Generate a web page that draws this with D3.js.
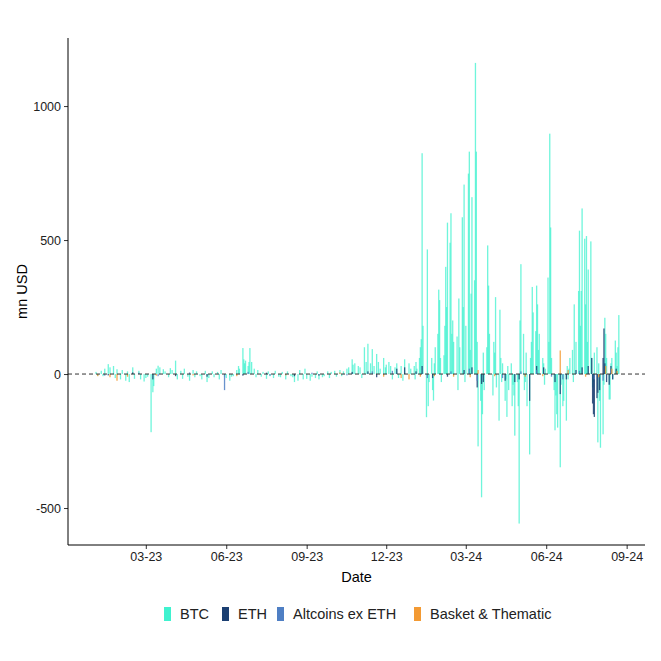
<!DOCTYPE html>
<html><head><meta charset="utf-8">
<script src="https://cdn.jsdelivr.net/npm/d3@7"></script>
<style>body{margin:0;background:#fff;font-family:"Liberation Sans",Arial,sans-serif;}</style>
</head><body><svg id="chart" width="661" height="661"></svg>
<script>
// daily net flows, mn USD
var btcFlows = [
["2023-01-03",8],["2023-01-05",-6],["2023-01-09",12],["2023-01-11",-8],["2023-01-13",20],["2023-01-17",37],["2023-01-19",25],["2023-01-23",30],["2023-01-25",-15],["2023-01-27",18],["2023-01-31",-20],
["2023-02-02",15],["2023-02-06",-25],["2023-02-08",10],["2023-02-10",-30],["2023-02-14",25],["2023-02-16",-18],["2023-02-21",12],["2023-02-23",-20],["2023-02-27",-28],
["2023-03-01",-15],["2023-03-03",-10],["2023-03-07",-217],["2023-03-09",-68],["2023-03-10",-45],["2023-03-13",20],["2023-03-15",31],["2023-03-17",25],["2023-03-21",18],["2023-03-23",10],["2023-03-27",-12],["2023-03-29",22],["2023-03-31",15],
["2023-04-04",50],["2023-04-06",-20],["2023-04-10",12],["2023-04-12",-18],["2023-04-14",20],["2023-04-18",-10],["2023-04-20",-25],["2023-04-24",15],["2023-04-26",-12],["2023-04-28",10],
["2023-05-02",-8],["2023-05-04",-20],["2023-05-08",12],["2023-05-10",-30],["2023-05-12",-15],["2023-05-16",10],["2023-05-18",-12],["2023-05-22",8],["2023-05-24",-20],["2023-05-26",15],["2023-05-30",-10],
["2023-06-01",-15],["2023-06-05",-25],["2023-06-07",-10],["2023-06-09",-8],["2023-06-13",15],["2023-06-15",30],["2023-06-16",20],["2023-06-20",97],["2023-06-21",55],["2023-06-22",40],["2023-06-23",50],["2023-06-26",30],["2023-06-27",45],["2023-06-28",97],["2023-06-30",45],
["2023-07-03",20],["2023-07-05",-12],["2023-07-07",15],["2023-07-11",-10],["2023-07-13",8],["2023-07-17",-18],["2023-07-19",10],["2023-07-21",-8],["2023-07-25",-15],["2023-07-27",12],["2023-07-31",-10],
["2023-08-02",-12],["2023-08-04",8],["2023-08-08",-20],["2023-08-10",10],["2023-08-14",-8],["2023-08-16",-12],["2023-08-18",-30],["2023-08-22",-25],["2023-08-24",15],["2023-08-28",-20],["2023-08-30",20],
["2023-09-01",-18],["2023-09-05",-25],["2023-09-07",-10],["2023-09-11",-15],["2023-09-13",10],["2023-09-15",-20],["2023-09-19",-12],["2023-09-21",-8],["2023-09-25",10],["2023-09-27",-15],["2023-09-29",8],
["2023-10-03",12],["2023-10-05",-10],["2023-10-09",15],["2023-10-11",-8],["2023-10-13",10],["2023-10-17",20],["2023-10-19",25],["2023-10-23",55],["2023-10-24",35],["2023-10-26",40],["2023-10-30",30],
["2023-11-01",25],["2023-11-03",-15],["2023-11-06",100],["2023-11-08",45],["2023-11-10",113],["2023-11-13",40],["2023-11-15",93],["2023-11-17",30],["2023-11-20",75],["2023-11-22",45],["2023-11-24",20],["2023-11-28",60],["2023-11-30",25],
["2023-12-01",35],["2023-12-04",45],["2023-12-06",30],["2023-12-08",-20],["2023-12-11",25],["2023-12-13",40],["2023-12-15",-15],["2023-12-18",30],["2023-12-20",-25],["2023-12-22",55],["2023-12-27",40],["2023-12-29",20],
["2024-01-02",30],["2024-01-03",-20],["2024-01-04",45],["2024-01-05",20],["2024-01-08",60],["2024-01-09",100],["2024-01-10",130],["2024-01-11",824],["2024-01-12",180],["2024-01-16",-161],["2024-01-17",465],["2024-01-18",-120],["2024-01-19",-30],["2024-01-22",60],["2024-01-23",-60],["2024-01-24",-99],["2024-01-25",40],["2024-01-26",100],["2024-01-29",150],["2024-01-30",315],["2024-01-31",276],
["2024-02-01",60],["2024-02-02",-30],["2024-02-05",70],["2024-02-06",180],["2024-02-07",400],["2024-02-08",250],["2024-02-09",565],["2024-02-12",490],["2024-02-13",600],["2024-02-14",150],["2024-02-15",200],["2024-02-16",120],["2024-02-20",140],["2024-02-21",-60],["2024-02-22",282],["2024-02-23",100],["2024-02-26",585],["2024-02-27",250],["2024-02-28",707],["2024-02-29",-30],
["2024-03-01",180],["2024-03-04",748],["2024-03-05",830],["2024-03-06",90],["2024-03-07",300],["2024-03-08",660],["2024-03-11",350],["2024-03-12",1161],["2024-03-13",830],["2024-03-14",120],["2024-03-15",-270],["2024-03-18",-100],["2024-03-19",-460],["2024-03-20",-150],["2024-03-21",80],["2024-03-22",-60],["2024-03-25",100],["2024-03-26",480],["2024-03-27",330],["2024-03-28",150],
["2024-04-01",-80],["2024-04-02",120],["2024-04-03",80],["2024-04-04",287],["2024-04-05",-50],["2024-04-08",-174],["2024-04-09",240],["2024-04-10",60],["2024-04-11",-30],["2024-04-12",40],["2024-04-15",-100],["2024-04-16",-20],["2024-04-17",-160],["2024-04-18",30],["2024-04-19",-60],["2024-04-22",40],["2024-04-23",-120],["2024-04-24",-40],["2024-04-25",-80],["2024-04-26",-230],["2024-04-29",-30],["2024-04-30",-120],
["2024-05-01",-558],["2024-05-02",200],["2024-05-03",410],["2024-05-06",150],["2024-05-07",-60],["2024-05-08",-30],["2024-05-09",80],["2024-05-10",-120],["2024-05-13",-300],["2024-05-14",60],["2024-05-15",120],["2024-05-16",325],["2024-05-17",230],["2024-05-20",160],["2024-05-21",330],["2024-05-22",260],["2024-05-23",90],["2024-05-24",150],["2024-05-28",60],["2024-05-29",40],["2024-05-30",-40],["2024-05-31",20],
["2024-06-03",360],["2024-06-04",120],["2024-06-05",897],["2024-06-06",547],["2024-06-07",60],["2024-06-10",-60],["2024-06-11",-210],["2024-06-12",-80],["2024-06-13",-150],["2024-06-14",-200],["2024-06-17",-348],["2024-06-18",-40],["2024-06-20",-120],["2024-06-21",-100],["2024-06-24",-174],["2024-06-25",30],["2024-06-26",-20],["2024-06-27",20],["2024-06-28",60],
["2024-07-01",90],["2024-07-02",-30],["2024-07-03",260],["2024-07-05",120],["2024-07-08",310],["2024-07-09",535],["2024-07-10",180],["2024-07-11",310],["2024-07-12",618],["2024-07-15",505],["2024-07-16",260],["2024-07-17",515],["2024-07-18",120],["2024-07-19",390],["2024-07-22",495],["2024-07-23",60],["2024-07-24",-50],["2024-07-25",-30],["2024-07-26",80],["2024-07-29",100],["2024-07-30",-255],
["2024-07-31",40],["2024-08-01",-100],["2024-08-02",-275],["2024-08-05",-225],["2024-08-06",-40],["2024-08-07",210],["2024-08-08",150],["2024-08-09",60],["2024-08-12",-95],["2024-08-13",-95],["2024-08-14",40],["2024-08-15",60],["2024-08-16",-20],["2024-08-19",125],["2024-08-20",80],["2024-08-21",30],["2024-08-22",100],["2024-08-23",220]
];
var ethFlows = [
["2023-01-17",-5],["2023-02-14",6],["2023-03-09",-20],["2023-04-04",-8],["2023-05-10",-10],["2023-06-20",-6],["2023-07-17",5],["2023-08-18",-8],["2023-09-15",-6],["2023-10-23",8],["2023-11-10",10],["2023-11-20",-12],["2023-12-13",20],["2023-12-22",25],
["2024-01-04",10],["2024-01-11",30],["2024-01-23",-15],["2024-02-09",-10],["2024-02-28",15],["2024-03-08",25],["2024-03-14",-50],["2024-03-19",-37],["2024-03-21",-30],["2024-04-15",-25],["2024-04-26",-30],["2024-05-01",-20],["2024-05-13",-100],["2024-05-21",30],["2024-05-29",25],["2024-06-11",-30],["2024-06-17",-75],["2024-06-24",-20],["2024-07-05",15],["2024-07-12",25],["2024-07-19",30],
["2024-07-23",60],["2024-07-24",-110],["2024-07-25",-150],["2024-07-26",-160],["2024-07-29",-90],["2024-07-30",-70],["2024-08-01",-60],["2024-08-05",60],["2024-08-06",170],["2024-08-07",40],["2024-08-09",-30],["2024-08-12",-40],["2024-08-14",30],["2024-08-16",-20],["2024-08-20",20]
];
var altFlows = [
["2023-01-13",-6],["2023-02-21",5],["2023-03-15",-8],["2023-04-20",6],["2023-05-30",-60],["2023-06-26",8],["2023-07-21",-6],["2023-09-07",5],["2023-10-17",-5],["2023-11-15",10],["2023-12-08",12],
["2024-01-17",-15],["2024-02-13",10],["2024-03-05",20],["2024-03-14",-25],["2024-04-12",-15],["2024-05-03",10],["2024-05-21",15],["2024-06-07",-10],["2024-06-20",-20],["2024-07-09",12],["2024-07-26",-20],["2024-08-05",-25],["2024-08-14",15]
];
var basketFlows = [
["2023-01-05",-8],["2023-01-19",-12],["2023-01-27",-25],["2023-02-08",-10],["2023-03-13",-6],["2023-04-24",-5],["2023-06-13",-8],["2023-08-08",-5],["2023-10-09",6],["2023-11-28",-10],["2023-12-18",-15],["2023-12-27",-20],
["2024-01-09",-10],["2024-01-25",-8],["2024-02-16",-10],["2024-03-06",-12],["2024-03-15",15],["2024-04-03",-8],["2024-05-08",-10],["2024-05-28",-8],["2024-06-17",88],["2024-06-26",15],["2024-07-16",-10],["2024-07-31",-12],["2024-08-08",30],["2024-08-15",20],["2024-08-21",12]
];
var seriesNames = ["BTC","ETH","Altcoins ex ETH","Basket & Thematic"];
var seriesColors = ["#3ff2cf","#1b3f72","#4f7fc4","#f39a33"];
var yTicks = [-500,0,500,1000];
var xTickDates = ["2023-03-01","2023-06-01","2023-09-01","2023-12-01","2024-03-01","2024-06-01","2024-09-01"];

var svg = d3.select("#chart");
var parse = d3.timeParse("%Y-%m-%d");
var plotLeft = 68, plotRight = 645, plotTop = 38, plotBottom = 545;

var x = d3.scaleTime()
	.domain([parse("2022-12-02"), parse("2024-09-22")])
	.range([plotLeft, plotRight]);
var y = d3.scaleLinear()
	.domain([-638, 1254])
	.range([plotBottom, plotTop]);

//bars, drawn one over the other
var allSeries = [btcFlows, ethFlows, altFlows, basketFlows];
allSeries.forEach(function(rows, i)
{
	svg.append("g")
	.selectAll("rect")
	.data(rows)
	.enter()
	.append("rect")
	.attr("x", function(d){ return x(parse(d[0])) - 0.6; })
	.attr("width", 1.3)
	.attr("y", function(d){ return y(Math.max(0, d[1])); })
	.attr("height", function(d){ return Math.abs(y(d[1]) - y(0)); })
	.attr("fill", seriesColors[i])
	.attr("fill-opacity", i == 0 ? 0.75 : 0.85);
});

//zero line
svg.append("line")
	.attr("x1", plotLeft).attr("x2", plotRight)
	.attr("y1", y(0)).attr("y2", y(0))
	.attr("stroke", "#333").attr("stroke-width", 1)
	.attr("stroke-dasharray", "4,3");

//axes
var yAxis = d3.axisLeft(y).tickValues(yTicks).tickSize(4).tickFormat(function(d){ return String(d); });
var gy = svg.append("g").attr("transform", "translate(" + plotLeft + ",0)").call(yAxis);
var xAxis = d3.axisBottom(x).tickValues(xTickDates.map(parse)).tickSize(4).tickFormat(d3.timeFormat("%m-%y"));
var gx = svg.append("g").attr("transform", "translate(0," + plotBottom + ")").call(xAxis);
[gx, gy].forEach(function(g)
{
	g.select(".domain").remove();
	g.selectAll("line").attr("stroke", "#333");
	g.selectAll("text").attr("fill", "#222").style("font-size", "12.5px").style("font-family", "Liberation Sans, Arial, sans-serif");
});
svg.append("line").attr("x1", plotLeft).attr("x2", plotLeft).attr("y1", plotTop).attr("y2", plotBottom).attr("stroke", "#000");
svg.append("line").attr("x1", plotLeft).attr("x2", plotRight).attr("y1", plotBottom).attr("y2", plotBottom).attr("stroke", "#000");

svg.append("text").attr("x", (plotLeft + plotRight) / 2).attr("y", 582).attr("text-anchor", "middle")
	.style("font-size", "14.5px").text("Date");
svg.append("text").attr("transform", "translate(27," + ((plotTop + plotBottom) / 2) + ") rotate(-90)")
	.attr("text-anchor", "middle").style("font-size", "14.5px").text("mn USD");

//legend
var legendX = [164, 222, 277, 414];
seriesNames.forEach(function(name, i)
{
	svg.append("rect").attr("x", legendX[i]).attr("y", 607).attr("width", 7).attr("height", 14)
		.attr("fill", seriesColors[i]);
	svg.append("text").attr("x", legendX[i] + 16).attr("y", 619)
		.style("font-size", "14.5px").attr("fill", "#222").text(name);
});
</script>
</body></html>
